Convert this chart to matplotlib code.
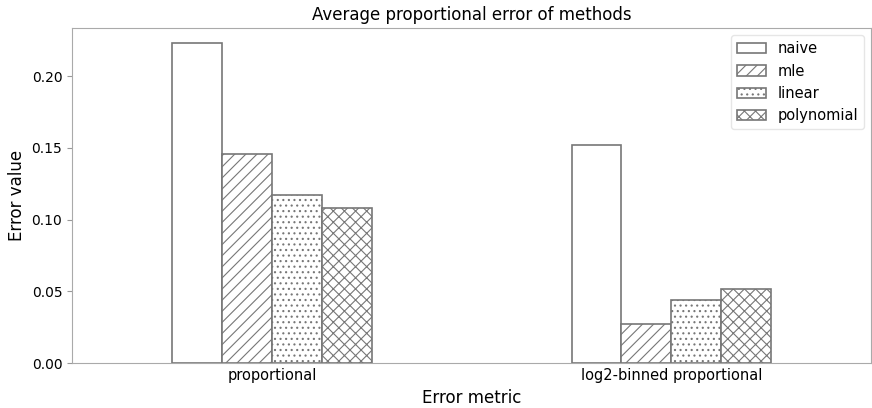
import numpy as np
import matplotlib
matplotlib.use("Agg")
import matplotlib.pyplot as plt

metrics = ["proportional", "log2-binned proportional"]
methods = ["naive", "mle", "linear", "polynomial"]
naive = [0.223, 0.152]
mle = [0.146, 0.027]
linear = [0.117, 0.044]
polynomial = [0.108, 0.052]
hatches = ["", "///", "...", "xxx"]

plt.rcParams["hatch.color"] = "#7a7a7a"
plt.rcParams["hatch.linewidth"] = 0.8

fig = plt.figure(figsize=(8.72, 4.08), dpi=100)
ax = fig.add_axes([0.0826, 0.110, 0.9165, 0.821])

x = np.arange(len(metrics))
wbar = 0.125
series = [naive, mle, linear, polynomial]
for i, (name, vals) in enumerate(zip(methods, series)):
    ax.bar(x + (i - 1.5) * wbar, vals, wbar, label=name, color="white",
           edgecolor="#777777", linewidth=1.2, hatch=hatches[i])

ax.set_xlim(-0.5, 1.5)
ax.set_ylim(0, 0.2335)
ax.set_yticks([0.0, 0.05, 0.10, 0.15, 0.20])
ax.set_xticks(x)
ax.set_xticklabels(metrics, fontsize=10.5)
ax.tick_params(axis="y", labelsize=10, color="#999999")
ax.tick_params(axis="x", length=0)
for s in ax.spines.values():
    s.set_color("#aaaaaa")
ax.set_xlabel("Error metric", fontsize=12)
ax.set_ylabel("Error value", fontsize=12)
ax.set_title("Average proportional error of methods", fontsize=12)
leg = ax.legend(loc="upper right", fontsize=10.5)
leg.get_frame().set_edgecolor("#e0e0e0")

fig.savefig("out.png", dpi=100)
